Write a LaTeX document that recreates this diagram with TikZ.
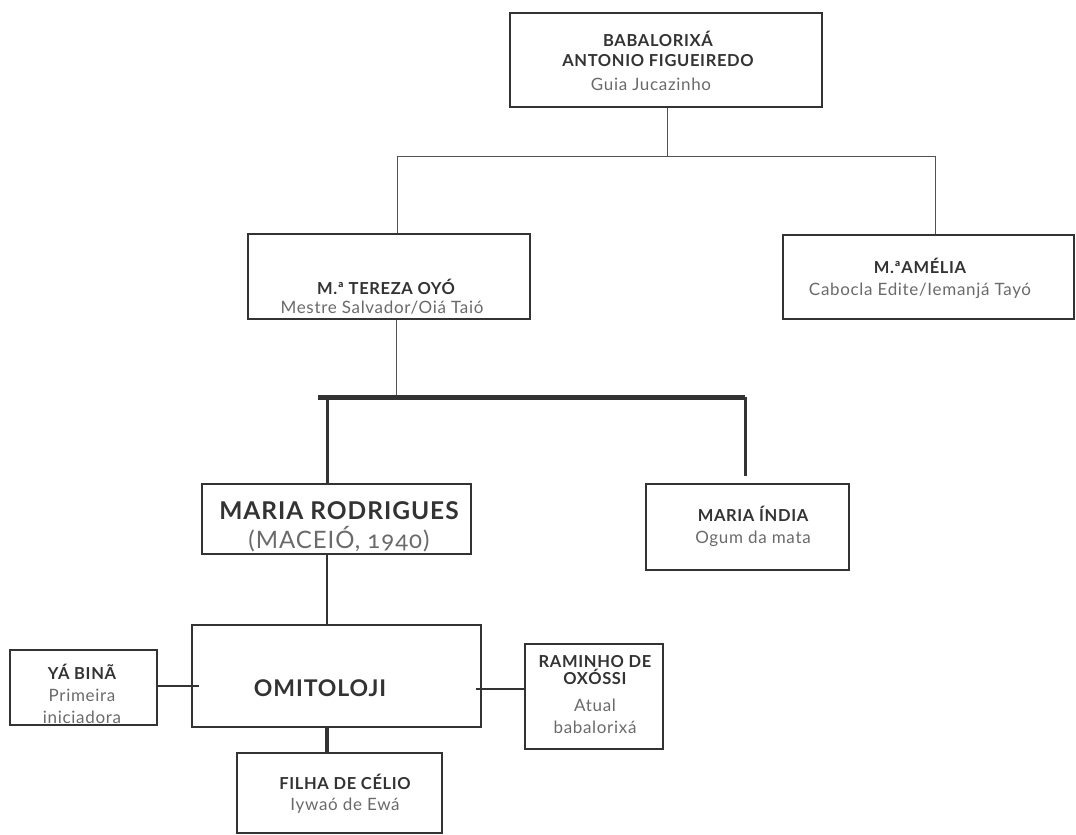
\documentclass[tikz,border=0pt]{standalone}
\usepackage{fontspec}
\setmainfont{Lato}
\newfontfamily\spaced[LetterSpace=4]{Lato}
\newfontfamily\spacedold[LetterSpace=4,Numbers=OldStyle]{Lato}
\usepackage{tikz}

\definecolor{ink}{HTML}{333333}
\definecolor{soft}{HTML}{6A6A6A}

\begin{document}
\begin{tikzpicture}[x=1pt,y=-1pt]
        \tikzstyle{every node} = [inner sep=0pt, align=center]
        \tikzstyle{box} = [rectangle, draw=ink, line width=1.5pt]
        \tikzstyle{nametext} = [font=\spaced\bfseries\fontsize{16.5}{20}\selectfont, text=ink]
        \tikzstyle{roletext} = [font=\spaced\fontsize{17}{22}\selectfont, text=soft]
        \tikzstyle{linkline} = [draw=ink!85, line width=1pt]
        \useasboundingbox (0,0) rectangle (1076,835);

        % boxes
        \node[box, minimum width=312, minimum height=94] (top) at (666,60) {};
        \node[box, minimum width=282, minimum height=85] (tereza) at (389,276.5) {};
        \node[box, minimum width=291, minimum height=84] (amelia) at (928.5,277) {};
        \node[box, minimum width=269, minimum height=70] (rodrigues) at (336.5,519) {};
        \node[box, minimum width=203, minimum height=86] (india) at (747.5,527) {};
        \node[box, minimum width=289, minimum height=102] (omitoloji) at (336.5,676) {};
        \node[box, minimum width=147, minimum height=75] (yabina) at (83.5,687.5) {};
        \node[box, minimum width=138, minimum height=105] (raminho) at (594,696.5) {};
        \node[box, minimum width=205, minimum height=80] (filha) at (339.5,793) {};

        % texts
        \node[nametext] (topname) at (658,49) {BABALORIXÁ\\ANTONIO FIGUEIREDO};
        \node[roletext] (toprole) at (651,84) {Guia Jucazinho};
        \node[nametext] (terezaname) at (386,287) {M.ª TEREZA OYÓ};
        \node[roletext] (terezarole) at (382,308) {Mestre Salvador/Oiá Taió};
        \node[nametext] (amelianame) at (920,266) {M.ªAMÉLIA};
        \node[roletext] (ameliarole) at (920,291) {Cabocla Edite/Iemanjá Tayó};
        \node[nametext, font=\spaced\bfseries\fontsize{24.5}{28}\selectfont] (rodriguesname) at (339,511) {MARIA RODRIGUES};
        \node[roletext, font=\spacedold\fontsize{24}{28}\selectfont] (rodriguesrole) at (339,539) {(MACEIÓ, 1940)};
        \node[nametext] (indianame) at (753,514) {MARIA ÍNDIA};
        \node[roletext] (indiarole) at (753,539) {Ogum da mata};
        \node[nametext, font=\spaced\bfseries\fontsize{23}{26}\selectfont] (omitolojiname) at (320,688) {OMITOLOJI};
        \node[nametext] (yabinaname) at (82,672) {YÁ BINÃ};
        \node[roletext, font=\spaced\fontsize{17}{22}\selectfont] (yabinarole) at (82,706.5) {Primeira\\iniciadora};
        \node[nametext, font=\spaced\bfseries\fontsize{16.5}{17}\selectfont] (raminhoname) at (595,670.5) {RAMINHO DE\\OXÓSSI};
        \node[roletext] (raminhorole) at (595,716.5) {Atual\\babalorixá};
        \node[nametext] (filhaname) at (345,782) {FILHA DE CÉLIO};
        \node[roletext] (filharole) at (345,806) {Iywaó de Ewá};

        % connectors
        \coordinate (fork) at (667,156);
        \coordinate (forkl) at (397,156);
        \coordinate (forkr) at (935,156);
        \coordinate (barl) at (318,397);
        \coordinate (barr) at (745,397);
        \draw[linkline] (top.south -| fork) -- (fork);
        \draw[linkline] (tereza.north -| forkl) -- (forkl) -- (forkr) -- (amelia.north -| forkr);
        \draw[linkline] (tereza.south -| 396,0) -- (396,397);
        \draw[ink, line width=5pt] (barl) -- (barr);
        \draw[ink, line width=3pt] (barl -| 327,0) -- (rodrigues.north -| 327,0);
        \draw[ink, line width=3pt] (barr) -- ([yshift=7pt]india.north -| barr);
        \draw[ink, line width=2pt] (rodrigues.south -| 327,0) -- (omitoloji.north -| 327,0);
        \draw[ink, line width=2pt] (yabina.east |- 0,686) -- ([xshift=8pt]omitoloji.west |- 0,686);
        \draw[ink, line width=2pt] ([xshift=-6pt]omitoloji.east |- 0,689) -- (raminho.west |- 0,689);
        \draw[ink, line width=4pt] (omitoloji.south -| 327,0) -- (filha.north -| 327,0);
\end{tikzpicture}
\end{document}
